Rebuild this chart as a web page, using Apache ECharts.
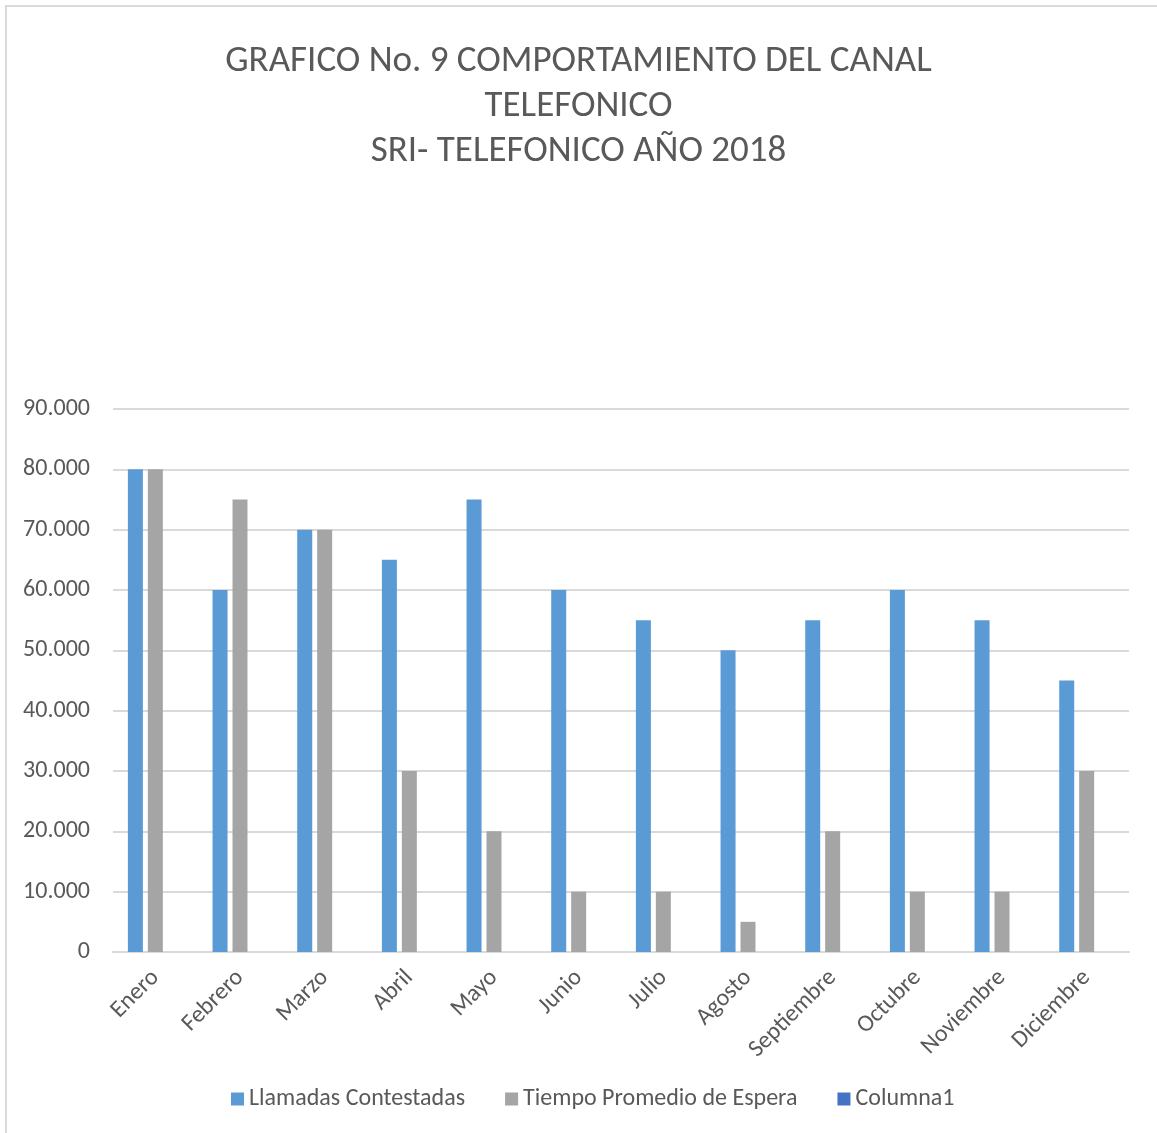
<!DOCTYPE html>
<html>
<head>
<meta charset="utf-8">
<script src="https://cdn.jsdelivr.net/npm/echarts@6/dist/echarts.min.js"></script>
<style>
html,body{margin:0;padding:0;background:#fff;}
#c{width:1157px;height:1133px;}
</style>
</head>
<body>
<div id="c"></div>
<script>
const categories = ['Enero','Febrero','Marzo','Abril','Mayo','Junio','Julio','Agosto','Septiembre','Octubre','Noviembre','Diciembre'];
const llamadasContestadas = [80000,60000,70000,65000,75000,60000,55000,50000,55000,60000,55000,45000];
const tiempoPromedioEspera = [80000,75000,70000,30000,20000,10000,10000,5000,20000,10000,10000,30000];
const columna1 = [null,null,null,null,null,null,null,null,null,null,null,null];
const seriesNames = ['Llamadas Contestadas','Tiempo Promedio de Espera','Columna1'];
const titleText = 'GRAFICO No. 9 COMPORTAMIENTO DEL CANAL\nTELEFONICO\nSRI- TELEFONICO AÑO 2018';

const FONT = 'Carlito, Calibri, "Noto Sans", sans-serif';
const TXT = '#595959';
function fmt(v){ return String(v).replace(/\B(?=(\d{3})+(?!\d))/g,'.'); }

const chart = echarts.init(document.getElementById('c'));
chart.setOption({
  backgroundColor:'#fff',
  animation:false,
  graphic:[{type:'rect',shape:{x:6,y:6,width:1200,height:1200},style:{fill:'none',stroke:'#d9d9d9',lineWidth:2},silent:true}],
  title:{text:titleText,left:'center',top:34,textStyle:{fontFamily:FONT,fontSize:37,fontWeight:'normal',color:TXT,lineHeight:45}},
  legend:{bottom:17,left:226,icon:'rect',itemWidth:13,itemHeight:13,itemGap:40,itemTextGap:6,
    textStyle:{fontFamily:FONT,fontSize:24,color:TXT},data:seriesNames},
  grid:{left:113,right:28,top:409,bottom:181,containLabel:false},
  xAxis:{type:'category',data:categories,
    axisLine:{lineStyle:{color:'#d9d9d9',width:2}},axisTick:{show:false},
    axisLabel:{rotate:45,fontFamily:FONT,fontSize:24,color:TXT,margin:22,interval:0}},
  yAxis:{type:'value',min:0,max:90000,interval:10000,
    axisLine:{show:false},axisTick:{show:false},
    splitLine:{lineStyle:{color:'#d9d9d9',width:2}},
    axisLabel:{formatter:fmt,fontFamily:FONT,fontSize:24,color:TXT,margin:23}},
  series:[
    {name:seriesNames[0],type:'bar',data:llamadasContestadas,barWidth:15,barGap:'33%',itemStyle:{color:'#5B9BD5'}},
    {name:seriesNames[1],type:'bar',data:tiempoPromedioEspera,barWidth:15,barGap:'33%',itemStyle:{color:'#A5A5A5'}},
    {name:seriesNames[2],type:'bar',data:columna1,barWidth:15,barGap:'33%',itemStyle:{color:'#4472C4'}}
  ]
});
</script>
</body>
</html>
